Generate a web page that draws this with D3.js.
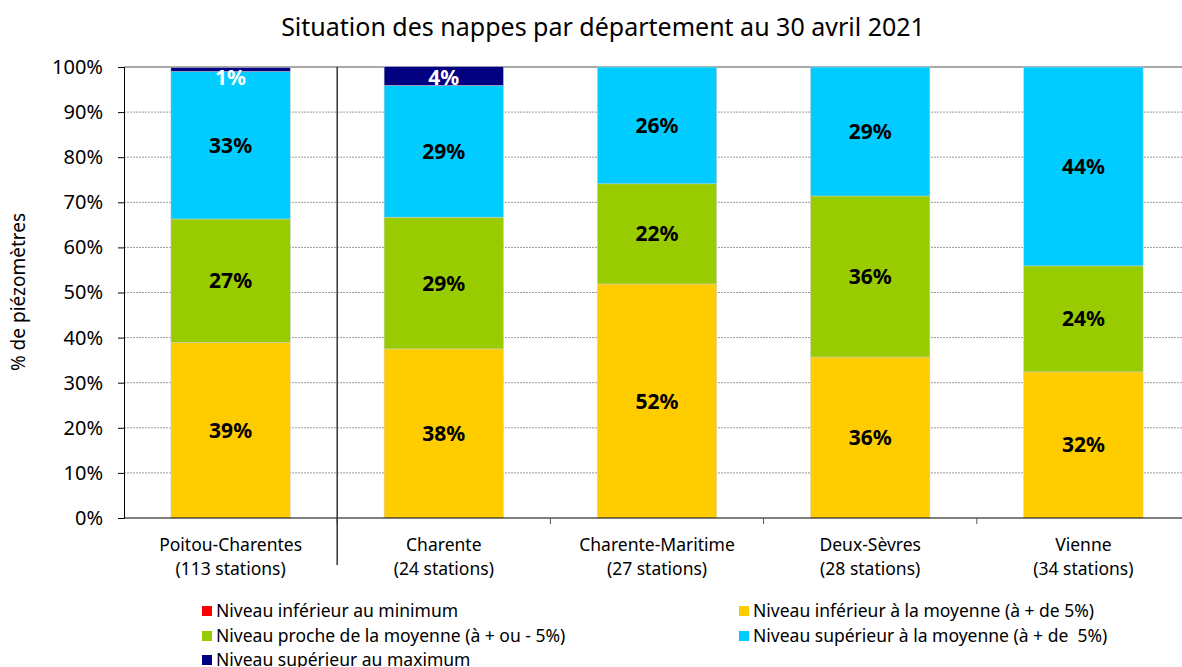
<!DOCTYPE html>
<html>
<head>
<meta charset="utf-8">
<script src="https://cdn.jsdelivr.net/npm/d3@7"></script>
<style>
  body { margin: 0; background: #fff; }
  svg text { font-family: "Noto Sans", "Open Sans", sans-serif; white-space: pre; }
</style>
</head>
<body>
<script>
const width = 1182;
const height = 667;

// chart data (percent of stations)
const categories = ["Poitou-Charentes", "Charente", "Charente-Maritime", "Deux-Sèvres", "Vienne"];
const stations = ["(113 stations)", "(24 stations)", "(27 stations)", "(28 stations)", "(34 stations)"];
const belowMin = [0, 0, 0, 0, 0];
const belowMean = [38.9, 37.5, 51.9, 35.7, 32.4];
const nearMean = [27.4, 29.2, 22.2, 35.7, 23.5];
const aboveMean = [32.7, 29.2, 25.9, 28.6, 44.1];
const aboveMax = [0.9, 4.2, 0, 0, 0];
const yTicks = [0, 10, 20, 30, 40, 50, 60, 70, 80, 90, 100];

const seriesList = [
    { name: "Niveau inférieur au minimum", values: belowMin, color: "#ff0000", text: "#000" },
    { name: "Niveau inférieur à la moyenne (à + de 5%)", values: belowMean, color: "#ffcc00", text: "#000" },
    { name: "Niveau proche de la moyenne (à + ou - 5%)", values: nearMean, color: "#99cc00", text: "#000" },
    { name: "Niveau supérieur à la moyenne (à + de  5%)", values: aboveMean, color: "#00ccff", text: "#000" },
    { name: "Niveau supérieur au maximum", values: aboveMax, color: "#000080", text: "#fff" }
];

const margin = { top: 67, right: -8, bottom: 149, left: 124 };
const innerW = width - margin.left - margin.right;
const innerH = height - margin.top - margin.bottom;

const svg = d3.select('body').append('svg')
    .attr('width', width)
    .attr('height', height);

const g = svg.append('g')
    .attr('transform', `translate(${margin.left},${margin.top})`);

const x = d3.scaleBand().domain(categories).range([0, innerW]).paddingInner(0).paddingOuter(0);
const y = d3.scaleLinear().domain([0, 100]).range([innerH, 0]);
const barW = x.bandwidth() * 0.56;

// title
svg.append('text')
    .attr('x', 603).attr('y', 36)
    .attr('text-anchor', 'middle')
    .attr('font-size', 25)
    .attr('fill', '#000')
    .text('Situation des nappes par département au 30 avril 2021');

// gridlines
g.selectAll('.grid')
    .data(yTicks.filter(t => t > 0 && t < 100))
    .enter().append('line')
    .attr('x1', 0).attr('x2', innerW)
    .attr('y1', d => y(d)).attr('y2', d => y(d))
    .attr('stroke', '#9a9a9a')
    .attr('stroke-width', 1)
    .attr('stroke-dasharray', '2,1');

g.append('line')
    .attr('x1', 0).attr('x2', innerW)
    .attr('y1', y(100)).attr('y2', y(100))
    .attr('stroke', '#a8a8a8')
    .attr('stroke-width', 2);

// stacked bars
const stackData = categories.map((c, i) => {
    const row = { cat: c };
    seriesList.forEach((s, k) => row['s' + k] = s.values[i]);
    return row;
});
const stack = d3.stack().keys(seriesList.map((s, k) => 's' + k));
const layers = stack(stackData);

layers.forEach((layer, k) => {
    const s = seriesList[k];
    g.selectAll('.bar' + k)
        .data(layer)
        .enter().append('rect')
        .attr('x', d => x(d.data.cat) + (x.bandwidth() - barW) / 2)
        .attr('y', d => y(d[1]))
        .attr('width', barW)
        .attr('height', d => Math.max(0, y(d[0]) - y(d[1])))
        .attr('fill', s.color)
        .attr('stroke', d => d[1] - d[0] > 0 ? '#d0d0d0' : 'none')
        .attr('stroke-width', 0.5);

    g.selectAll('.lab' + k)
        .data(layer.filter(d => d[1] - d[0] > 0))
        .enter().append('text')
        .attr('x', d => x(d.data.cat) + x.bandwidth() / 2)
        .attr('y', d => Math.max((y(d[0]) + y(d[1])) / 2, y(100) + 10))
        .attr('dy', '0.36em')
        .attr('text-anchor', 'middle')
        .attr('font-size', 21)
        .attr('font-weight', 'bold')
        .attr('fill', s.text)
        .text(d => Math.round(d[1] - d[0]) + '%');
});

// y axis
const yAxis = g.append('g')
    .call(d3.axisLeft(y).tickValues(yTicks).tickFormat(d => d + '%').tickSize(6).tickPadding(15));
yAxis.select('.domain').attr('stroke', '#000');
yAxis.selectAll('.tick line').attr('stroke', '#000');
yAxis.selectAll('text').attr('font-size', 20).attr('fill', '#000')
    .style('font-family', '"Noto Sans", sans-serif');

// x axis line and boundary ticks
g.append('line')
    .attr('x1', 0).attr('x2', innerW)
    .attr('y1', innerH).attr('y2', innerH)
    .attr('stroke', '#000');

g.selectAll('.xtick')
    .data(categories.slice(1))
    .enter().append('line')
    .attr('x1', d => x(d)).attr('x2', d => x(d))
    .attr('y1', innerH).attr('y2', innerH + 6)
    .attr('stroke', '#555');

// separator after the regional total
g.append('line')
    .attr('x1', x(categories[1])).attr('x2', x(categories[1]))
    .attr('y1', 0).attr('y2', innerH + 47)
    .attr('stroke', '#333')
    .attr('stroke-width', 1.5);

// category labels (two separate lines)
g.selectAll('.cat')
    .data(categories)
    .enter().append('text')
    .attr('x', d => x(d) + x.bandwidth() / 2)
    .attr('y', innerH + 33)
    .attr('text-anchor', 'middle')
    .attr('font-size', 17.5)
    .attr('fill', '#000')
    .text(d => d);
g.selectAll('.stn')
    .data(categories)
    .enter().append('text')
    .attr('x', d => x(d) + x.bandwidth() / 2)
    .attr('y', innerH + 57)
    .attr('text-anchor', 'middle')
    .attr('font-size', 17.5)
    .attr('fill', '#000')
    .text((d, i) => stations[i]);

// y axis title
svg.append('text')
    .attr('transform', 'translate(25,292) rotate(-90)')
    .attr('text-anchor', 'middle')
    .attr('font-size', 19)
    .attr('fill', '#000')
    .text('% de piézomètres');

// legend
const legendPos = [
    { x: 202, y: 611 }, { x: 739, y: 611 },
    { x: 202, y: 636 }, { x: 739, y: 636 },
    { x: 202, y: 660 }
];
const legendOrder = [0, 1, 2, 3, 4];
const legend = svg.selectAll('.legend')
    .data(legendOrder)
    .enter().append('g')
    .attr('transform', (d, i) => `translate(${legendPos[i].x},${legendPos[i].y})`);
legend.append('rect')
    .attr('x', 0).attr('y', -5)
    .attr('width', 10).attr('height', 10)
    .attr('fill', d => seriesList[d].color);
legend.append('text')
    .attr('x', 14).attr('y', 0)
    .attr('dy', '0.35em')
    .attr('font-size', 17.5)
    .attr('fill', '#000')
    .text(d => seriesList[d].name);
</script>
</body>
</html>
